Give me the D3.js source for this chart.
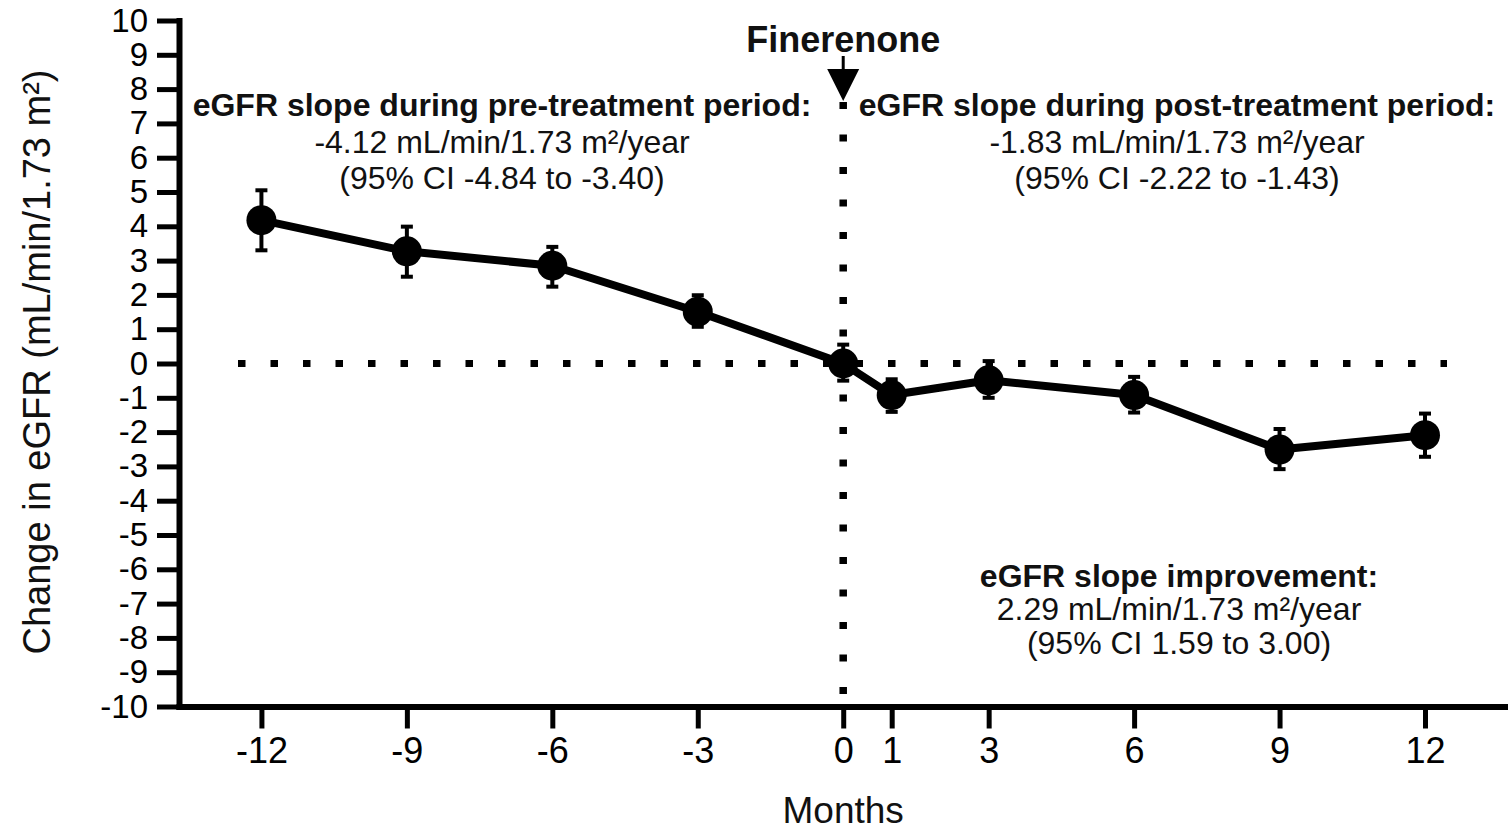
<!DOCTYPE html>
<html>
<head>
<meta charset="utf-8">
<script src="https://cdn.jsdelivr.net/npm/d3@7"></script>
<style>
  html, body { margin: 0; padding: 0; background: #fff; }
  svg { display: block; font-family: "Liberation Sans", Arial, Helvetica, sans-serif; }
</style>
</head>
<body>
<svg id="chart" width="1508" height="832"></svg>
<script>
// ---- data ----
const months   = [-12, -9, -6, -3, 0, 1, 3, 6, 9, 12];
const meanChg  = [4.18, 3.27, 2.85, 1.51, 0, -0.92, -0.49, -0.92, -2.51, -2.09];
const ciUpper  = [5.05, 3.99, 3.40, 1.99, 0.55, -0.46, 0.07, -0.39, -1.91, -1.46];
const ciLower  = [3.30, 2.53, 2.24, 1.07, -0.50, -1.41, -1.00, -1.43, -3.08, -2.72];
const xTicks   = [-12, -9, -6, -3, 0, 1, 3, 6, 9, 12];
const yTicks   = d3.range(-10, 11, 1);
const yDomain  = [-10, 10];
const xDomain  = [-13.7, 13.65];
const treatmentMonth = 0;
const xLabel = "Months";
const yLabel = "Change in eGFR (mL/min/1.73 m\u00B2)";
const drugLabel = "Finerenone";
const preText  = ["eGFR slope during pre-treatment period:", "-4.12 mL/min/1.73 m\u00B2/year", "(95% CI -4.84 to -3.40)"];
const postText = ["eGFR slope during post-treatment period:", "-1.83 mL/min/1.73 m\u00B2/year", "(95% CI -2.22 to -1.43)"];
const diffText = ["eGFR slope improvement:", "2.29 mL/min/1.73 m\u00B2/year", "(95% CI 1.59 to 3.00)"];

const data = months.map((m, i) => ({ m, v: meanChg[i], hi: ciUpper[i], lo: ciLower[i] }));

// ---- scales ----
const svg = d3.select("#chart");
const x = d3.scaleLinear().domain(xDomain).range([179, 1505]);
const y = d3.scaleLinear().domain(yDomain).range([706.5, 20.5]);
const fmt = d => String(d); // plain hyphen-minus as in the reference

// ---- reference dotted lines ----
svg.append("line")
  .attr("x1", 238).attr("x2", 1447)
  .attr("y1", y(0)).attr("y2", y(0))
  .attr("stroke", "#000").attr("stroke-width", 7)
  .attr("stroke-dasharray", "7.5 25");

svg.append("line")
  .attr("x1", x(treatmentMonth)).attr("x2", x(treatmentMonth))
  .attr("y1", 102).attr("y2", 706)
  .attr("stroke", "#000").attr("stroke-width", 7.5)
  .attr("stroke-dasharray", "7 25.5");

// ---- axes ----
const yAxis = d3.axisLeft(y).tickValues(yTicks).tickSize(22).tickSizeOuter(0).tickPadding(9)
  .tickFormat(fmt);
const gy = svg.append("g").attr("transform", `translate(${x(xDomain[0])},0)`).call(yAxis);
gy.select(".domain").attr("stroke-width", 6).attr("stroke-linecap", "square");
gy.selectAll(".tick line").attr("stroke-width", 5);
gy.selectAll(".tick text").attr("font-size", 33).attr("fill", "#000")
  .attr("font-family", "\"Liberation Sans\", Arial, sans-serif");

const xAxis = d3.axisBottom(x).tickValues(xTicks).tickSize(22).tickSizeOuter(0).tickPadding(9)
  .tickFormat(fmt);
const gx = svg.append("g").attr("transform", `translate(0,${y(yDomain[0])})`).call(xAxis);
gx.select(".domain").attr("stroke-width", 6).attr("stroke-linecap", "square");
gx.selectAll(".tick line").attr("stroke-width", 5);
gx.selectAll(".tick text").attr("font-size", 36).attr("fill", "#000")
  .attr("font-family", "\"Liberation Sans\", Arial, sans-serif");

// axis titles
svg.append("text")
  .attr("x", x(0)).attr("y", 823)
  .attr("text-anchor", "middle").attr("font-size", 37).attr("fill", "#111")
  .text(xLabel);

svg.append("text")
  .attr("transform", "translate(50,362) rotate(-90)")
  .attr("text-anchor", "middle").attr("font-size", 38).attr("fill", "#111")
  .text(yLabel);

// ---- series ----
const line = d3.line().x(d => x(d.m)).y(d => y(d.v));
svg.append("path").datum(data)
  .attr("d", line).attr("fill", "none")
  .attr("stroke", "#000").attr("stroke-width", 8).attr("stroke-linejoin", "round");

const eb = svg.append("g").selectAll("g").data(data).join("g");
eb.append("line")
  .attr("x1", d => x(d.m)).attr("x2", d => x(d.m))
  .attr("y1", d => y(d.hi)).attr("y2", d => y(d.lo))
  .attr("stroke", "#000").attr("stroke-width", 4);
eb.append("line")
  .attr("x1", d => x(d.m) - 6).attr("x2", d => x(d.m) + 6)
  .attr("y1", d => y(d.hi)).attr("y2", d => y(d.hi))
  .attr("stroke", "#000").attr("stroke-width", 4);
eb.append("line")
  .attr("x1", d => x(d.m) - 6).attr("x2", d => x(d.m) + 6)
  .attr("y1", d => y(d.lo)).attr("y2", d => y(d.lo))
  .attr("stroke", "#000").attr("stroke-width", 4);

svg.append("g").selectAll("circle").data(data).join("circle")
  .attr("cx", d => x(d.m)).attr("cy", d => y(d.v)).attr("r", 15).attr("fill", "#000");

// ---- treatment marker ----
const ax = x(treatmentMonth);
svg.append("text")
  .attr("x", ax).attr("y", 52)
  .attr("text-anchor", "middle").attr("font-size", 36).attr("font-weight", "bold").attr("fill", "#111")
  .text(drugLabel);
svg.append("line")
  .attr("x1", ax).attr("x2", ax).attr("y1", 56).attr("y2", 72)
  .attr("stroke", "#000").attr("stroke-width", 3);
svg.append("path")
  .attr("d", d3.line()([[ax - 16, 69], [ax + 16, 69], [ax, 101]]) + "Z")
  .attr("fill", "#000");

// ---- annotations ----
function block(lines, cx, baselines) {
  const g = svg.append("g");
  lines.forEach((t, i) => {
    g.append("text")
      .attr("x", cx).attr("y", baselines[i])
      .attr("text-anchor", "middle").attr("font-size", 32)
      .attr("font-weight", i === 0 ? "bold" : "normal")
      .attr("fill", "#111")
      .text(t);
  });
}
block(preText, 502, [116, 153, 189]);
block(postText, 1177, [116, 153, 189]);
block(diffText, 1179, [587, 620, 654]);
</script>
</body>
</html>
